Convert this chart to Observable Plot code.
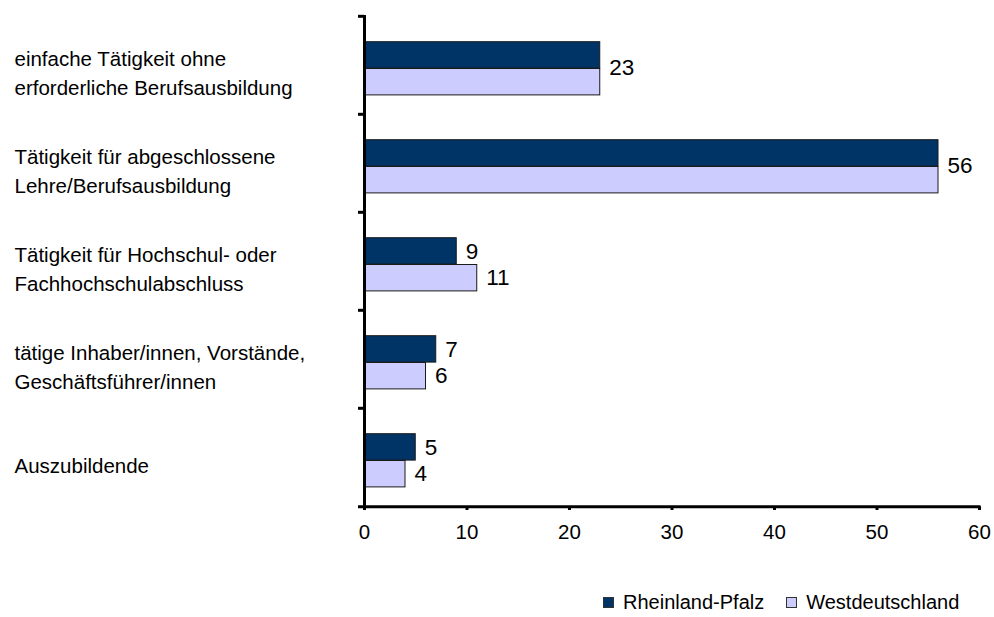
<!DOCTYPE html>
<html>
<head>
<meta charset="utf-8">
<script src="https://cdn.jsdelivr.net/npm/d3@7"></script>
<script src="https://cdn.jsdelivr.net/npm/@observablehq/plot@0.6"></script>
<style>
  body { margin: 0; background: #fff; font-family: "Liberation Sans", Arial, sans-serif; }
  #chart svg { display: block; }
  .legend { display: flex; align-items: center; height: 20px; margin-top: 7px; padding-left: 603px; font-size: 20px; color: #000; }
  .legend .item { display: flex; align-items: center; margin-right: 22px; }
  .legend .swatch { width: 11px; height: 11px; box-sizing: border-box; border: 1px solid #333; margin-right: 9px; }
</style>
</head>
<body>
<div id="chart"></div>
<script>
// Beschäftigte nach Tätigkeitsniveau, Anteile in %
const categories = [
  "einfache Tätigkeit ohne\nerforderliche Berufsausbildung",
  "Tätigkeit für abgeschlossene\nLehre/Berufsausbildung",
  "Tätigkeit für Hochschul- oder\nFachhochschulabschluss",
  "tätige Inhaber/innen, Vorstände,\nGeschäftsführer/innen",
  "Auszubildende"
];
const seriesNames = ["Rheinland-Pfalz", "Westdeutschland"];
const rheinlandPfalz = [23, 56, 9, 7, 5];
const westdeutschland = [23, 56, 11, 6, 4];
const xTicks = [0, 10, 20, 30, 40, 50, 60];
const colors = ["#003366", "#ccccff"];

const rows = categories.map((c, i) => ({category: c, rp: rheinlandPfalz[i], wd: westdeutschland[i]}));
const differing = rows.filter(d => d.rp !== d.wd);
const equal = rows.filter(d => d.rp === d.wd);
const lastCategory = categories[categories.length - 1];

const W = 994, H = 585;
const marginTop = 15, marginBottom = 78, marginLeft = 364, marginRight = 15;
const band = (H - marginTop - marginBottom) / categories.length;
const barH = 26.8;
const topGap = 25.7;           // space above the first bar in each band
const half = band / 2;

const chart = Plot.plot({
  width: W,
  height: H,
  marginTop, marginBottom, marginLeft, marginRight,
  style: {fontFamily: "'Liberation Sans', Arial, sans-serif", color: "#000", background: "#fff"},
  x: {domain: [0, 60], label: null, axis: null},
  y: {domain: categories, padding: 0, axis: null},
  marks: [
    // Rheinland-Pfalz bars
    Plot.barX(rows, {
      y: "category", x: "rp", fill: colors[0], stroke: "#1a1a1a", strokeWidth: 1,
      insetTop: topGap, insetBottom: band - topGap - barH
    }),
    // Westdeutschland bars
    Plot.barX(rows, {
      y: "category", x: "wd", fill: colors[1], stroke: "#1a1a1a", strokeWidth: 1,
      insetTop: topGap + barH, insetBottom: band - topGap - 2 * barH
    }),
    // value labels
    Plot.text(equal, {
      y: "category", x: "rp", text: d => String(d.rp), textAnchor: "start",
      dx: 9, dy: topGap + barH - half - 1, fontSize: 22.5
    }),
    Plot.text(differing, {
      y: "category", x: "rp", text: d => String(d.rp), textAnchor: "start",
      dx: 9, dy: topGap + barH / 2 - half, fontSize: 22.5
    }),
    Plot.text(differing, {
      y: "category", x: "wd", text: d => String(d.wd), textAnchor: "start",
      dx: 9, dy: topGap + 1.5 * barH - half, fontSize: 22.5
    }),
    // category labels in the left margin
    Plot.text(categories, {
      y: d => d, text: d => d, frameAnchor: "left", textAnchor: "start",
      dx: 14 - marginLeft, dy: 6, fontSize: 20.5, lineHeight: 1.4
    }),
    // vertical axis line and its ticks at the band edges
    Plot.ruleX([0], {strokeWidth: 3, stroke: "#000"}),
    Plot.ruleY(categories, {y: d => d, x1: 0, x2: 0, insetLeft: -6, dy: -half, strokeWidth: 3, stroke: "#000"}),
    // horizontal axis line, its ticks and labels
    Plot.ruleY([lastCategory], {
      y: d => d, x1: 0, x2: 60, insetLeft: -6, insetRight: -1.5, dy: half, strokeWidth: 3, stroke: "#000"
    }),
    Plot.tickX(xTicks, {
      x: d => d, y: () => lastCategory, insetTop: band, insetBottom: -4, strokeWidth: 3, stroke: "#000"
    }),
    Plot.text(xTicks, {
      x: d => d, text: d => String(d), frameAnchor: "bottom", dy: 31, fontSize: 20.5
    })
  ]
});
document.getElementById("chart").appendChild(chart);

// legend below the plot
const legend = document.createElement("div");
legend.className = "legend";
seriesNames.forEach((name, i) => {
  const item = document.createElement("div");
  item.className = "item";
  const sw = document.createElement("span");
  sw.className = "swatch";
  sw.style.background = colors[i];
  const label = document.createElement("span");
  label.textContent = name;
  item.appendChild(sw);
  item.appendChild(label);
  legend.appendChild(item);
});
document.body.appendChild(legend);
</script>
</body>
</html>
